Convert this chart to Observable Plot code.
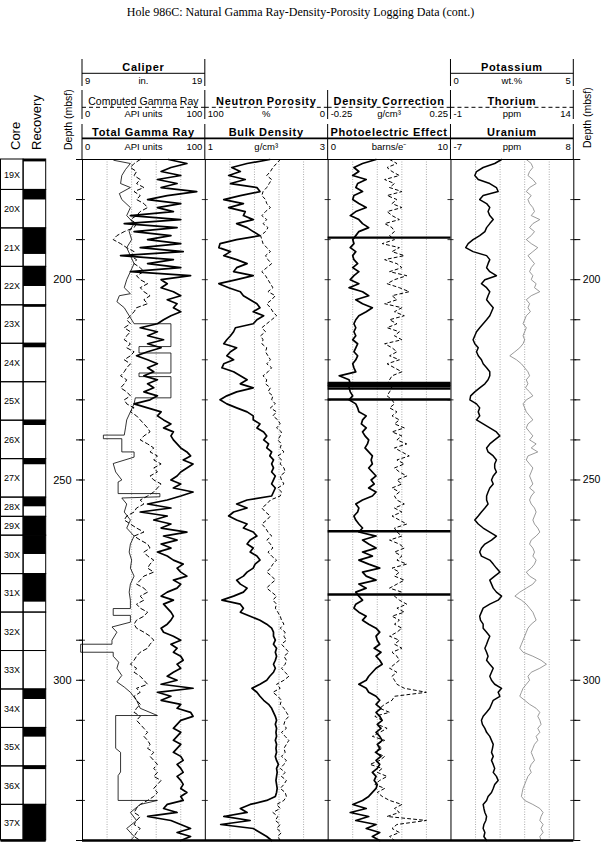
<!DOCTYPE html>
<html><head><meta charset="utf-8">
<script src="https://cdn.jsdelivr.net/npm/d3@7"></script>
<script src="https://cdn.jsdelivr.net/npm/@observablehq/plot@0.6"></script>
<style>
body{margin:0;background:#fff;}
#wrap{position:relative;width:601px;height:842px;overflow:hidden;font-family:"Liberation Sans",Arial,Helvetica,sans-serif;}
#title{position:absolute;left:0;top:5px;width:601px;text-align:center;font-family:"Liberation Serif","Times New Roman",serif;font-size:12px;line-height:14px;}
#wrap svg{position:absolute;left:0;top:0;}
</style></head>
<body><div id="wrap"><div id="title">Hole 986C: Natural Gamma Ray-Density-Porosity Logging Data (cont.)</div></div>
<script>
// ---------------- DATA ----------------
// all log series sampled every 1 m from 170 to 340 mbsf
const DEPTH0 = 170, DSTEP = 1;

const gammaTotal = [ // API
70,85,72,64,80,61,77,64,93,69, 53,80,61,74,39,80,34,77,42,72,
53,80,47,82,31,74,53,80,39,88, 64,69,64,74,80,69,77,74,80,72,
66,61,47,61,53,66,53,64,53,44, 53,61,53,58,50,61,53,58,50,61,
55,42,53,64,61,66,72,66,74,72, 74,77,80,85,88,82,90,85,80,77,
72,80,74,90,80,69,53,72,47,69, 58,72,64,85,66,77,64,72,61,69,
74,82,77,80,85,74,80,77,69,64, 74,66,69,72,74,72,69,64,66,74,
80,72,77,74,80,82,77,80,74,69, 77,64,90,61,72,64,80,77,88,90,
80,77,74,80,77,74,80,77,74,80, 82,77,80,82,77,80,82,80,85,80,
82,69,66,77,53,72,80,88,77,88, 80];

const gammaComputed = [ // API
47,42,39,44,42,47,44,50,42,47, 44,50,53,47,44,39,44,42,34,28,
25,31,36,42,39,44,42,47,50,44, 47,53,47,50,55,50,53,44,42,39,
36,39,34,39,36,34,39,36,42,39, 34,39,36,34,31,36,34,31,36,39,
34,36,42,39,44,47,50,53,55,50, 47,53,58,55,61,58,64,58,61,55,
58,64,61,58,53,47,50,44,42,36, 34,39,44,50,42,47,53,55,50,53,
58,55,53,58,50,47,44,50,53,47, 50,44,47,53,50,44,42,44,50,55,
58,55,53,47,44,42,39,44,42,47, 50,53,44,47,42,44,47,44,42,47,
44,47,50,53,50,53,55,53,58,55, 58,61,58,61,58,64,61,58,61,58,
53,47,44,42,47,44,42,47,44,42, 47];

const bulkDensity = [ // g/cm3
2.05,1.68,1.43,1.57,1.38,1.65,1.41,1.84,1.89,1.57, 1.30,1.62,1.38,1.65,1.62,1.78,1.51,1.68,1.78,1.89,
1.51,1.24,1.22,1.41,1.30,1.51,1.68,1.51,1.46,1.78, 1.51,1.22,1.38,1.57,1.62,1.73,1.84,1.89,1.78,1.95,
1.84,1.78,1.49,1.46,1.41,1.35,1.30,1.51,1.41,1.35, 1.46,1.30,1.27,1.46,1.57,1.68,1.57,1.78,1.51,1.35,
1.24,1.35,1.51,1.68,1.78,1.78,1.89,1.84,1.95,2.00, 1.95,2.03,2.00,2.08,2.05,2.11,2.08,2.11,2.08,2.14,
2.11,2.08,2.14,2.11,2.08,1.68,1.51,1.68,1.46,1.38, 1.51,1.68,1.62,1.78,1.84,1.73,1.68,1.78,1.73,1.84,
1.89,1.81,1.78,1.68,1.62,1.51,1.57,1.68,1.62,1.46, 1.27,1.57,1.62,1.57,1.73,1.89,2.00,2.08,2.11,2.11,
2.14,2.11,2.16,2.14,2.16,2.14,2.11,2.14,2.11,2.05, 2.00,1.89,1.76,1.84,1.89,1.95,2.03,2.08,2.11,2.14,
2.16,2.14,2.16,2.15,2.16,2.14,2.16,2.15,2.16,2.14, 2.16,2.19,2.16,2.17,2.16,2.15,2.16,2.17,2.16,2.14,
2.00,1.73,1.57,1.68,1.30,1.73,1.25,1.78,1.89,2.00, 2.08];

const neutronPorosity = [ // %
39,42,45,47,50,46,48,50,53,54, 51,50,47,51,54,50,53,49,51,55,
54,53,50,47,51,49,46,50,54,51, 49,47,45,49,43,46,50,47,45,42,
46,50,54,51,55,53,54,50,51,49, 47,50,46,49,53,50,51,47,49,45,
46,43,47,42,45,41,39,42,38,39, 41,38,39,36,41,38,39,36,35,39,
38,36,41,38,39,47,50,54,51,47, 50,54,51,49,46,50,47,45,49,46,
42,45,47,50,46,43,47,50,46,42, 45,42,43,41,39,38,36,39,35,36,
34,38,35,32,36,34,35,38,35,32, 36,42,39,45,41,38,39,36,34,32,
35,36,34,38,35,32,34,36,35,38, 34,36,39,35,38,34,36,39,35,34,
36,42,39,45,41,43,39,42,38,41, 39];

const photoelectric = [ // barns/e
3.9,2.8,2.1,2.5,2.0,3.1,2.4,2.25,2.8,2.1, 2.0,2.5,3.1,2.25,1.8,2.5,2.8,3.3,2.5,2.25,
2.0,2.1,1.8,2.25,2.0,2.1,2.4,2.0,2.5,2.1, 1.8,2.5,1.7,2.8,3.3,2.25,2.8,3.6,3.1,2.5,
2.25,2.1,2.25,2.1,2.25,2.0,2.4,2.25,2.1,2.4, 2.25,2.0,2.1,2.25,0.9,1.7,1.8,1.7,1.8,2.0,
1.7,2.25,2.4,2.5,3.1,2.8,2.7,3.1,2.8,3.0, 3.3,3.2,3.0,3.3,3.6,3.5,3.6,3.3,3.6,3.9,
3.5,3.75,3.3,3.9,3.6,2.8,2.25,2.5,2.4,2.1, 2.25,2.5,2.8,2.5,3.9,2.8,3.3,3.9,2.8,3.6,
2.5,3.3,4.2,2.8,3.1,3.9,2.5,3.1,2.25,2.5, 2.8,2.25,2.1,2.5,3.1,2.8,3.3,3.9,4.2,3.9,
4.0,4.2,3.75,4.3,3.9,4.2,4.4,3.9,3.6,3.3, 3.1,2.5,3.1,3.3,3.9,4.2,3.9,4.3,3.9,4.2,
4.4,4.0,4.3,3.9,4.2,4.4,4.0,4.2,3.9,4.3, 3.9,4.2,4.0,3.6,3.9,3.75,4.0,3.9,3.6,3.3,
2.8,2.0,3.1,1.8,3.3,2.25,3.9,3.1,4.2,3.6, 4.2];

// depths where the PEF reading goes off scale
const pefSpikeDepth = [189.5, 225.8, 226.2, 226.6, 227.2, 229.9, 262.8, 278.6];

const densityCorrection = [ // g/cm3
0.00,0.03,-0.01,0.01,0.04,-0.02,0.02,0.00,0.05,-0.01, 0.03,0.01,0.05,-0.01,0.01,0.04,-0.02,0.01,0.02,0.00,
0.02,-0.03,0.04,0.01,0.06,-0.02,0.03,0.05,0.00,0.07, 0.02,-0.01,0.04,0.08,0.01,0.03,-0.02,0.05,0.02,0.06,
0.00,0.03,-0.01,0.04,0.02,0.05,-0.02,0.01,0.03,0.00, 0.04,-0.01,0.02,0.05,0.01,0.00,-0.01,0.01,0.00,-0.01,
0.01,0.02,0.00,0.03,0.01,0.04,0.02,0.06,0.01,0.05, 0.03,0.07,0.02,0.05,0.08,0.03,0.06,0.02,0.04,0.07,
0.03,0.05,0.01,0.04,0.02,0.03,0.06,0.02,0.05,0.01, 0.04,0.07,0.02,0.03,0.05,0.00,0.04,0.06,0.02,0.05,
0.03,0.07,0.01,0.04,0.02,0.06,0.03,0.00,0.05,0.02, 0.04,0.07,0.03,0.06,0.01,0.04,0.02,0.05,0.03,0.00,
0.04,0.02,0.05,0.01,0.03,0.04,0.02,0.00,0.03,0.01, 0.02,0.03,0.06,0.15,0.02,0.01,-0.02,-0.04,0.00,-0.06,
-0.03,-0.05,-0.01,-0.04,-0.07,-0.02,-0.05,-0.03,-0.06,-0.02, -0.04,-0.08,-0.03,-0.05,-0.01,-0.04,-0.06,-0.02,-0.05,-0.03,
0.00,0.05,0.02,0.04,-0.01,0.15,0.03,0.01,0.04,0.00, 0.02];

const potassium = [ // wt.%
2.06,1.78,1.31,1.04,0.97,1.11,1.58,1.85,1.92,1.31, 1.17,1.45,1.58,1.51,1.58,1.72,1.58,1.45,1.38,1.17,
0.90,0.70,0.60,0.90,1.45,1.58,1.51,1.45,1.58,1.85, 1.38,1.24,1.45,1.58,1.51,1.45,1.58,1.72,1.65,1.58,
1.45,1.31,1.17,1.04,0.97,0.90,0.97,1.11,1.04,1.11, 1.24,1.31,1.45,1.58,1.58,1.51,1.38,1.17,0.97,0.80,
0.77,1.04,1.17,1.11,1.17,1.04,1.31,1.58,1.85,1.99, 1.78,1.58,1.45,1.51,1.72,1.85,1.78,1.78,1.85,1.72,
1.65,1.72,1.58,1.51,1.45,1.45,1.51,1.38,1.24,1.11, 0.97,1.11,1.31,1.58,1.85,1.65,1.38,1.24,1.17,1.24,
1.58,1.72,1.85,1.99,1.78,1.58,1.65,1.72,1.85,2.06, 1.92,1.58,1.31,1.24,1.17,1.20,1.31,1.31,1.45,1.58,
1.51,1.45,1.38,1.45,1.51,1.45,1.58,1.72,1.65,1.58, 1.65,1.78,2.06,1.92,1.99,1.72,1.65,1.58,1.45,1.31,
1.24,1.28,1.38,1.45,1.58,1.65,1.72,1.69,1.65,1.72, 1.65,1.72,1.78,1.72,1.85,1.92,1.78,1.72,1.65,1.51,
1.45,1.31,1.34,1.38,1.45,1.42,1.34,1.31,1.38,1.34, 1.45];

const thorium = [ // ppm
8.2,8.8,9.0,8.6,8.4,9.0,9.4,8.6,8.2,8.8, 8.4,8.6,9.0,9.2,8.8,9.85,9.0,8.6,9.2,8.8,
8.2,8.8,9.6,9.0,8.4,8.8,9.2,8.8,8.6,9.0, 8.8,9.4,9.2,9.85,8.8,8.2,8.6,8.4,8.7,8.2,
8.0,7.8,8.2,8.0,7.8,8.0,7.8,7.4,6.8,6.18, 7.0,7.6,8.0,8.4,8.6,8.2,8.4,8.1,8.6,9.0,
8.2,7.8,8.0,8.2,8.6,9.0,8.4,8.2,8.6,9.0, 8.6,9.4,8.8,9.6,8.4,8.2,8.6,9.0,8.8,8.6,
8.8,9.0,8.6,9.2,8.8,8.6,8.8,9.2,9.4,9.2, 9.0,9.2,9.6,9.85,9.4,8.8,8.6,9.0,9.2,9.0,
9.4,9.2,8.8,8.2,8.6,9.4,9.0,8.2,7.4,6.8, 7.6,8.2,8.6,9.0,9.2,9.4,8.8,8.4,8.2,8.0,
7.8,7.6,7.4,7.8,9.0,10.0,10.66,9.85,8.8,8.4, 8.6,8.2,7.8,7.6,7.4,8.0,8.6,9.4,9.85,9.6,
9.85,10.0,9.6,9.85,9.4,9.6,9.2,9.0,8.8,9.0, 9.2,8.8,8.6,8.8,8.4,8.2,8.0,7.8,7.7,7.6,
8.0,9.0,9.85,10.25,10.0,9.85,10.25,10.0,10.25,9.85, 10.0];

// caliper (in.) at break points
const caliperDepth = [170.2,171,172.5,174,176,177,178.5,180,182,184,186,188,190,192,194,196,198,200,202,203.5,204,205.5,207,209,211,211,216.7,216.7,218.3,218.3,223.3,223.3,224.2,224.2,229.5,229.5,231,233,235,237,238.8,238.8,239.7,239.7,243,243,244.3,245.9,248,250,250.5,253.4,253.4,254.2,254.5,256,258,260,262,264,266,268,270,272,274,276,278,280,282.1,282.1,283.8,283.8,285.5,286.7,288,290,291,291,293,293,294,295.5,297,298.8,300.4,301.7,303,305,307,308.8,308.8,317,318,322.9,323.8,330,330,331,333,335,337,339,340];
const caliperIn = [11.55,12.9,12.5,12.2,12.1,12.9,12.0,12.2,12.9,12.6,13.2,12.8,13.0,12.6,12.9,13.2,12.9,12.6,12.4,12.9,12.0,11.8,12.4,12.8,13.2,16.2,16.2,13.6,13.6,16.2,16.2,13.6,13.6,16.2,16.2,13.3,13.2,12.9,12.6,12.5,12.4,10.7,10.7,12.2,12.2,13.2,13.2,11.5,11.7,12.2,11.9,11.9,15.3,15.3,12.2,12.6,12.4,12.9,12.6,13.2,12.9,12.8,13.0,12.9,13.2,12.9,12.8,12.9,12.9,11.5,11.5,12.9,12.9,11.4,11.8,11.4,11.4,8.85,8.85,11.5,11.5,11.95,11.8,12.2,11.8,12.4,12.9,13.4,13.7,15.1,11.7,11.7,12.1,12.1,11.9,11.9,15.1,13.7,12.9,13.4,12.6,13.2,12.9];

// cores
const coreNames = ["19X","20X","21X","22X","23X","24X","25X","26X","27X","28X","29X","30X","31X","32X","33X","34X","35X","36X","37X"];
const coreTop = [168.0,177.6,187.2,196.8,206.4,216.0,225.6,235.2,244.8,254.4,259.2,263.9,273.5,283.1,292.7,302.3,311.9,321.5,331.1];
const coreBottom = [177.6,187.2,196.8,206.4,216.0,225.6,235.2,244.8,254.4,259.2,263.9,273.5,283.1,292.7,302.3,311.9,321.5,331.1,340.7];
const coreRecovered = [2.6,2.5,6.5,4.9,0.5,1.0,0,1.2,1.4,2.3,4.7,4.7,7.0,0,0,2.5,2.3,0.8,9.6];

// depth axis
const depthTicks = [170,180,190,200,210,220,230,240,250,260,270,280,290,300,310,320,330,340];
const depthLabels = [200,250,300];

// header rows
const headerRow1 = [
  {track:0, title:"Caliper", lo:"9", unit:"in.", hi:"19"},
  {track:3, title:"Potassium", lo:"0", unit:"wt.%", hi:"5"}];
const headerRow2 = [
  {track:0, title:"Computed Gamma Ray", lo:"0", unit:"API units", hi:"100", plain:true},
  {track:1, title:"Neutron Porosity", lo:"100", unit:"%", hi:"0"},
  {track:2, title:"Density Correction", lo:"-0.25", unit:"g/cm³", hi:"0.25"},
  {track:3, title:"Thorium", lo:"-1", unit:"ppm", hi:"14"}];
const headerRow3 = [
  {track:0, title:"Total Gamma Ray", lo:"0", unit:"API units", hi:"100"},
  {track:1, title:"Bulk Density", lo:"1", unit:"g/cm³", hi:"3"},
  {track:2, title:"Photoelectric Effect", lo:"0", unit:"barns/e⁻", hi:"10"},
  {track:3, title:"Uranium", lo:"-7", unit:"ppm", hi:"8"}];

// ---------------- LAYOUT ----------------
const W = 601, H = 842, ML = 82, MR = 27.7, MT = 159, MB = 2;
const trackW = (W - ML - MR) / 4;
const px = p => p / trackW; // pixels -> track units
const FONT = '"Liberation Sans", Arial, Helvetica, sans-serif';

const depthAt = i => DEPTH0 + i * DSTEP;
const toTrack = (vals, lo, hi, t) => vals.map((v, i) => ({depth: depthAt(i), pos: t + (v - lo) / (hi - lo)}));

const grData = toTrack(gammaTotal, 0, 100, 0);
const cgrData = toTrack(gammaComputed, 0, 100, 0);
const calData = caliperDepth.map((d, i) => ({depth: d, pos: (caliperIn[i] - 9) / 10}));
const rhobData = toTrack(bulkDensity, 1, 3, 1);
const nphiData = toTrack(neutronPorosity, 100, 0, 1);
const pefData = toTrack(photoelectric, 0, 10, 2);
const drhoData = toTrack(densityCorrection, -0.25, 0.25, 2);
const kData = toTrack(potassium, 0, 5, 3);
const thData = toTrack(thorium, -1, 14, 3);

const gridX = [];
for (let t = 0; t < 4; t++) for (let k = 1; k < 5; k++) gridX.push(t + k / 5);
const borders = [0, 1, 2, 3, 4];
const innerTicks = [];
for (const b of borders) for (const d of depthTicks) innerTicks.push({b, d});

const fmt = d => depthLabels.includes(d) ? String(d) : "";
const useAxisMarks = typeof Plot.axisY === "function";
const yScale = {domain: [170, 340], reverse: true, label: null};
if (!useAxisMarks) Object.assign(yScale, {axis: "left", ticks: depthTicks, tickSize: 6, tickPadding: 4, tickFormat: fmt});

const marks = [
  Plot.ruleX(gridX, {stroke: "#888", strokeWidth: 0.7, strokeDasharray: "1,1.5"}),
  Plot.line(calData, {x: "pos", y: "depth", stroke: "black", strokeWidth: 0.8}),
  Plot.line(cgrData, {x: "pos", y: "depth", stroke: "black", strokeWidth: 1, strokeDasharray: "4,3"}),
  Plot.line(grData, {x: "pos", y: "depth", stroke: "black", strokeWidth: 1.7}),
  Plot.line(nphiData, {x: "pos", y: "depth", stroke: "black", strokeWidth: 1, strokeDasharray: "3,3"}),
  Plot.line(rhobData, {x: "pos", y: "depth", stroke: "black", strokeWidth: 1.7}),
  Plot.line(drhoData, {x: "pos", y: "depth", stroke: "black", strokeWidth: 1, strokeDasharray: "3,3"}),
  Plot.line(pefData, {x: "pos", y: "depth", stroke: "black", strokeWidth: 1.7}),
  Plot.ruleY(pefSpikeDepth, {x1: () => 2, x2: () => 3, stroke: "black", strokeWidth: 2.4}),
  Plot.line(thData, {x: "pos", y: "depth", stroke: "#808080", strokeWidth: 0.8}),
  Plot.line(kData, {x: "pos", y: "depth", stroke: "black", strokeWidth: 1.5}),
  Plot.ruleX(borders, {stroke: "black", strokeWidth: 1}),
  Plot.ruleY(innerTicks, {y: "d", x1: d => d.b - px(3), x2: d => d.b + px(3), stroke: "black", strokeWidth: 0.8}),
  Plot.ruleY([170], {stroke: "black", strokeWidth: 1}),
  Plot.ruleY([340], {stroke: "black", strokeWidth: 2.5})
];
if (useAxisMarks) {
  marks.push(Plot.axisY(depthTicks, {anchor: "left", tickSize: 6, tickPadding: 5, tickFormat: fmt, label: null, fontSize: 11}));
  marks.push(Plot.axisY(depthTicks, {anchor: "right", tickSize: 6, tickPadding: 3, tickFormat: fmt, label: null, fontSize: 10.5}));
} else {
  marks.push(Plot.ruleY(depthTicks, {x1: 4, x2: 4 + px(6), stroke: "black"}));
  marks.push(Plot.text(depthLabels, {x: 4 + px(9), y: d => d, text: d => String(d), textAnchor: "start", fontSize: 10.5}));
}

const chart = Plot.plot({
  width: W, height: H,
  marginLeft: ML, marginRight: MR, marginTop: MT, marginBottom: MB,
  x: {domain: [0, 4], axis: null},
  y: yScale,
  style: {background: "transparent", fontFamily: FONT, fontSize: "11px", color: "black"},
  marks
});

// ---------------- CORE / RECOVERY COLUMN ----------------
const cores = coreNames.map((name, i) => {
  const top = Math.max(coreTop[i], 170), bot = Math.min(coreBottom[i], 340);
  return {name, top, bot, recBot: Math.min(Math.max(coreTop[i] + coreRecovered[i], 170), 340), mid: (top + bot) / 2, rec: coreRecovered[i]};
});
const coreChart = Plot.plot({
  width: 50, height: H,
  marginLeft: 0.5, marginRight: 4.3, marginTop: MT, marginBottom: MB,
  x: {domain: [0, 2], axis: null},
  y: {domain: [170, 340], reverse: true, axis: null},
  style: {background: "transparent", fontFamily: FONT, fontSize: "9px", color: "black"},
  marks: [
    Plot.rect(cores.filter(c => c.rec > 0), {x1: () => 1, x2: () => 2, y1: "top", y2: "recBot", fill: "black"}),
    Plot.rect(cores, {x1: () => 0, x2: () => 1, y1: "top", y2: "bot", fill: "none", stroke: "black", strokeWidth: 1}),
    Plot.rect(cores, {x1: () => 1, x2: () => 2, y1: "top", y2: "bot", fill: "none", stroke: "black", strokeWidth: 1}),
    Plot.text(cores, {x: () => 0.13, y: "mid", text: "name", textAnchor: "start", fontSize: 9}),
    Plot.ruleY([340], {stroke: "black", strokeWidth: 2.5})
  ]
});

const wrap = document.getElementById("wrap");
wrap.appendChild(coreChart);
wrap.appendChild(chart);

// ---------------- HEADER ----------------
const svg = d3.select(chart);
const g = svg.append("g").attr("font-family", FONT).attr("fill", "black").attr("text-anchor", "start");
const xEdge = t => ML + t * trackW;

function headerRow(rows, top, bottom, titleBase, lineY, lineW, dash, scaleBase, edges) {
  for (const e of edges) {
    g.append("line").attr("x1", xEdge(e)).attr("x2", xEdge(e)).attr("y1", top).attr("y2", bottom)
      .attr("stroke", "black").attr("stroke-width", 1);
  }
  for (const r of rows) {
    const x0 = xEdge(r.track), x1 = xEdge(r.track + 1), xc = (x0 + x1) / 2;
    const t = g.append("text").attr("x", xc).attr("y", titleBase).attr("text-anchor", "middle").text(r.title);
    if (r.plain) t.attr("font-size", 10.5).attr("font-weight", "normal");
    else t.attr("font-size", 11).attr("font-weight", "bold").attr("letter-spacing", 0.7);
    const ln = g.append("line").attr("x1", x0).attr("x2", x1).attr("y1", lineY).attr("y2", lineY)
      .attr("stroke", "black").attr("stroke-width", lineW);
    if (dash) ln.attr("stroke-dasharray", dash);
    g.append("text").attr("x", x0 + 3).attr("y", scaleBase).attr("font-size", 9.5).attr("text-anchor", "start").text(r.lo);
    g.append("text").attr("x", xc).attr("y", scaleBase).attr("font-size", 9.5).attr("text-anchor", "middle").text(r.unit);
    g.append("text").attr("x", x1 - 2.5).attr("y", scaleBase).attr("font-size", 9.5).attr("text-anchor", "end").text(r.hi);
  }
}
headerRow(headerRow1, 59, 86, 71, 73.3, 1, null, 83.8, [0, 1, 3, 4]);
headerRow(headerRow2, 90, 119, 105, 107.3, 1, "4,3", 116.8, [0, 1, 2, 3, 4]);
headerRow(headerRow3, 124, 159, 136, 138.3, 1.8, null, 149.8, [0, 1, 2, 3, 4]);

function vLabel(x, yBottom, text, size) {
  g.append("text").attr("transform", `translate(${x},${yBottom}) rotate(-90)`)
    .attr("text-anchor", "start").attr("dy", "0.35em").attr("font-size", size).text(text);
}
vLabel(15, 150, "Core", 13);
vLabel(36, 150, "Recovery", 13);
vLabel(68, 150, "Depth (mbsf)", 10.5);
vLabel(587, 148, "Depth (mbsf)", 10.5);
</script>
</body></html>
